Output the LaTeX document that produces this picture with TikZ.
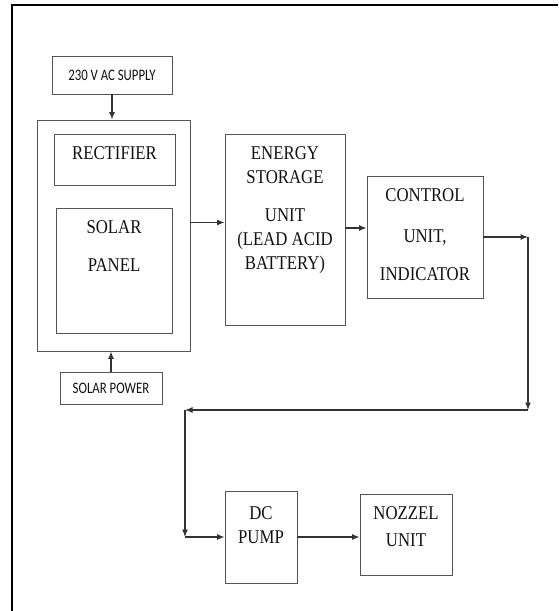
\documentclass[tikz,border=0pt]{standalone}
\usepackage{fontspec}
\newfontfamily\blkfont[FakeStretch=0.86]{Liberation Serif}
\newfontfamily\tagfont[FakeStretch=0.8]{Carlito}
\usetikzlibrary{arrows.meta,positioning}
\definecolor{lineg}{HTML}{555555}
\definecolor{txtg}{HTML}{111111}

\begin{document}
\begin{tikzpicture}[x=1pt,y=-1pt,
blk/.style={draw=lineg,line width=0.9pt,inner sep=0pt},
tag/.style={blk,font=\tagfont\fontsize{16}{18}\selectfont,text=txtg},
txt/.style={anchor=north,inner sep=0pt,align=center,text=txtg,
font=\blkfont\fontsize{19.5}{24}\selectfont},
arr/.style={-{Latex[length=7.5pt,width=6pt]},line width=1.1pt,draw=black!80}
]
\useasboundingbox (0,0) rectangle (558,611);
\draw[line width=2.6pt] (12,611) -- (12,5) -- (558,5);
% inputs
\node[tag,minimum width=120pt,minimum height=38pt] (ac) at (112,75) {230 V AC SUPPLY};
\node[tag,minimum width=102pt,minimum height=32pt] (sp) at (111,388) {SOLAR POWER};
% source unit
\node[blk,minimum width=153pt,minimum height=231pt] (src) at (113.5,235.5) {};
\node[blk,minimum width=121pt,minimum height=51pt] (rect) at (114.5,159.5) {};
\node[blk,minimum width=116pt,minimum height=125pt] (pan) at (114,270.5) {};
% chain
\node[blk,minimum width=120pt,minimum height=191pt] (es) at (285,229.5) {};
\node[blk,minimum width=116pt,minimum height=122pt] (ctrl) at (425,237) {};
\node[blk,minimum width=72pt,minimum height=92pt] (pump) at (261,537) {};
\node[blk,minimum width=92pt,minimum height=81pt] (noz) at (406,534.5) {};
% labels
\node[txt] (rect-t) at ([yshift=-12.5pt]rect.north) {RECTIFIER};
\node[txt] (pan-t) at ([yshift=-12.5pt]pan.north) {SOLAR\\[14pt]PANEL};
\node[txt] (es-t) at ([yshift=-12.5pt]es.north)
{ENERGY\\STORAGE\\[14pt]UNIT\\(LEAD ACID\\BATTERY)};
\node[txt] (ctrl-t) at ([yshift=-12.5pt]ctrl.north) {CONTROL\\[17pt]UNIT,\\[14pt]INDICATOR};
\node[txt] (pump-t) at ([yshift=-15.5pt]pump.north) {DC\\PUMP};
\node[txt] (noz-t) at ([yshift=-12.5pt]noz.north) {NOZZEL\\[3pt]UNIT};
% connectors
\coordinate (c1) at (528,237);
\coordinate (c2) at (528,410);
\coordinate (c3) at (185,410);
\coordinate (c4) at (c3 |- pump.west);
\draw[arr] (ac.south) -- (ac.south |- src.north);
\draw[arr] (sp.north) -- (sp.north |- src.south);
\draw[arr] ([yshift=13pt]src.east) -- ([yshift=13pt]src.east -| es.west);
\draw[arr] ([yshift=9pt]ctrl.west -| es.east) -- ([yshift=9pt]ctrl.west);
\foreach \a/\b in {ctrl.east/c1,c1/c2,c2/c3,c3/c4,c4/pump.west}
\draw[arr] (\a) -- (\b);
\draw[arr] (pump.east) -- (pump.east -| noz.west);
\end{tikzpicture}
\end{document}
